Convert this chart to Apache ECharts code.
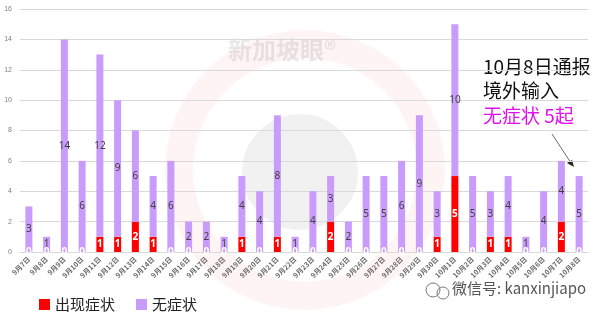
<!DOCTYPE html>
<html><head><meta charset="utf-8">
<script src="https://cdn.jsdelivr.net/npm/echarts@6/dist/echarts.min.js"></script>
<style>html,body{margin:0;padding:0;background:#fff}#c{width:601px;height:317px}</style>
</head><body><div id="c"></div>
<script>
var categories = ['9月7日','9月8日','9月9日','9月10日','9月11日','9月12日','9月13日','9月14日','9月15日','9月16日','9月17日','9月18日','9月19日','9月20日','9月21日','9月22日','9月23日','9月24日','9月25日','9月26日','9月27日','9月28日','9月29日','9月30日','10月1日','10月2日','10月3日','10月4日','10月5日','10月6日','10月7日','10月8日'];
var symptomatic = [0,0,0,0,1,1,2,1,0,0,0,0,1,0,1,0,0,2,0,0,0,0,0,1,5,0,1,1,0,0,2,0];
var asymptomatic = [3,1,14,6,12,9,6,4,6,2,2,1,4,4,8,1,4,3,2,5,5,6,9,3,10,5,3,4,1,4,4,5];
var yTicks = [0,2,4,6,8,10,12,14,16];

var chart = echarts.init(document.getElementById('c'));
chart.setOption({
  animation:false,
  grid:{left:20,right:13,top:9,bottom:65},
  graphic:[
    {type:'ring',shape:{cx:305,cy:170,r:140,r0:112},style:{fill:'rgba(255,120,120,0.08)'},z:-10,silent:true},
    {type:'circle',shape:{cx:300,cy:172,r:58},style:{fill:'rgba(120,120,120,0.10)'},z:-10,silent:true},
    {type:'text',left:228,top:38,style:{text:'新加坡眼®',fill:'rgba(150,150,150,0.22)',font:'bold 24px "Noto Sans CJK SC"'},z:-10,silent:true},
    {type:'text',left:483,top:57,style:{text:'10月8日通报',fill:'#111',font:'19px "Noto Sans CJK SC"'}},
    {type:'text',left:483,top:81,style:{text:'境外输入',fill:'#111',font:'19px "Noto Sans CJK SC"'}},
    {type:'text',left:483,top:106,style:{text:'无症状 5起',fill:'#E010F0',font:'19px "Noto Sans CJK SC"'}},
    {type:'line',shape:{x1:552,y1:134,x2:571,y2:163},style:{stroke:'#444',lineWidth:0.8}},
    {type:'polygon',shape:{points:[[574,167],[567,163],[572,160]]},style:{fill:'#222'}},
    {type:'text',left:452,top:281,style:{text:'微信号: kanxinjiapo',fill:'#555',font:'15px "Noto Sans CJK SC"'}},
    {type:'circle',shape:{cx:433,cy:290,r:7},style:{fill:'none',stroke:'#777',lineWidth:1}},
    {type:'circle',shape:{cx:443,cy:293,r:6},style:{fill:'none',stroke:'#777',lineWidth:1}}
  ],
  legend:{left:34,top:292,icon:'rect',itemWidth:11,itemHeight:11,itemGap:21,
    textStyle:{fontSize:15,color:'#222',fontFamily:'Noto Sans CJK SC'},
    data:['出现症状','无症状']},
  xAxis:{type:'category',data:categories,
    axisLine:{lineStyle:{color:'#d9d9d9'}},axisTick:{show:false},
    axisLabel:{rotate:45,fontSize:7,color:'#666',fontWeight:'bold',interval:0,margin:6,fontFamily:'Noto Sans CJK SC'}},
  yAxis:{type:'value',min:0,max:16,interval:2,
    axisLine:{show:false},axisTick:{show:false},
    splitLine:{lineStyle:{color:'#d9d9d9'}},
    axisLabel:{fontSize:7,color:'#808080',margin:8,
      formatter:function(v){return yTicks.indexOf(v)>=0?String(v):'';}}},
  series:[
    {name:'出现症状',type:'bar',stack:'a',barWidth:7,data:symptomatic,
      itemStyle:{color:'#FF0000'},
      label:{show:true,position:'inside',color:'#fff',fontSize:10,fontWeight:'bold',fontFamily:'Noto Sans'}},
    {name:'无症状',type:'bar',stack:'a',barWidth:7,data:asymptomatic,
      itemStyle:{color:'#C99BFB'},
      label:{show:true,position:'inside',color:'#404040',fontSize:10,fontFamily:'Noto Sans'}}
  ]
});
</script></body></html>
